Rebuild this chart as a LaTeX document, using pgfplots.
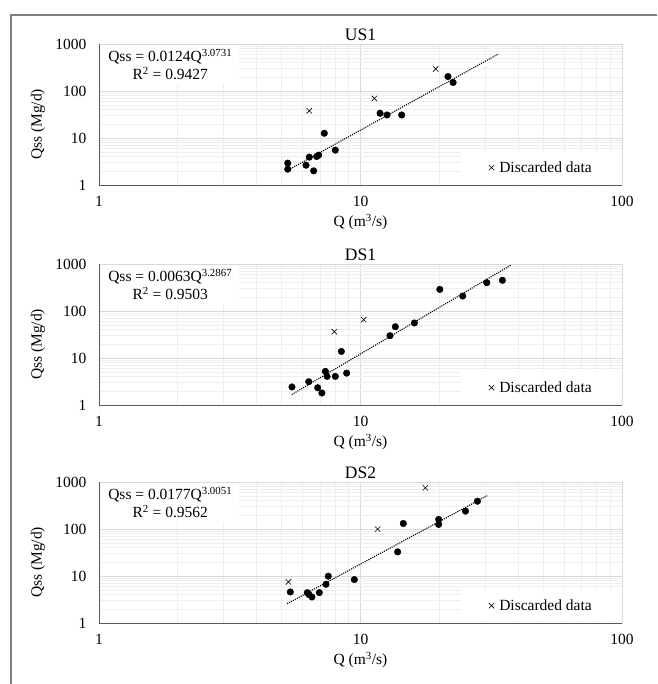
\documentclass[border=0pt]{standalone}
\usepackage{pgfplots}
\pgfplotsset{compat=1.18}
\usepackage{fontspec}
\setmainfont{Liberation Serif}

\definecolor{majgrid}{HTML}{D9D9D9}
\definecolor{mingrid}{HTML}{EEEEEE}
\definecolor{axisgray}{HTML}{595959}
\definecolor{framegray}{HTML}{7F7F7F}

\begin{document}
\begin{tikzpicture}[x=1pt,y=1pt]
\useasboundingbox (0,0) rectangle (657,-684);
\draw[framegray, line width=1.5pt] (11,-684) -- (11,-15) -- (657,-15);

% US1
\begin{axis}[at={(99pt,-44pt)}, anchor=north west, title={US1},
  xmode=log, ymode=log, scale only axis, width=523pt, height=141pt,
  xmin=1, xmax=100, ymin=1, ymax=1000,
  xtick={1,10,100}, xticklabels={1,10,100},
  ytick={1,10,100,1000}, yticklabels={1,10,100,1000},
  grid=both, major grid style={majgrid, line width=0.8pt},
  minor grid style={mingrid, line width=0.6pt},
  axis x line*=bottom, axis y line*=left,
  axis line style={axisgray, line width=0.9pt},
  major tick length=0pt, minor tick length=0pt,
  tick label style={font=\fontsize{15.5}{18}\selectfont},
  xticklabel style={anchor=center, yshift=-16pt},
  yticklabel style={anchor=east, xshift=-9pt},
  label style={font=\fontsize{15.5}{18}\selectfont},
  xlabel={Q (m\textsuperscript{3}/s)}, ylabel={Qss (Mg/d)},
  xlabel style={at={(axis description cs:0.5,-0.262)}, anchor=center},
  ylabel style={at={(axis description cs:-0.117,0.43)}, anchor=center},
  title style={at={(axis description cs:0.5,1.022)}, anchor=center, font=\fontsize{17.5}{20}\selectfont},
  legend style={at={(1,0)}, anchor=south east, draw=none, fill=white,
    inner xsep=28pt, inner ysep=8pt, yshift=1pt, font=\fontsize{15.5}{18}\selectfont,
    /tikz/every odd column/.append style={column sep=3pt}},
]
\addplot[black, line width=1.1pt, dash pattern=on 1.1pt off 1.1pt, forget plot] coordinates {(5.3,2.09) (33.7,614)};
\addplot[only marks, mark=*, mark size=3.3pt, black, forget plot] coordinates {
(5.27,2.92) (5.27,2.17) (6.19,2.64) (6.37,3.92) (6.62,2.0) (6.80,4.04)
(6.92,4.32) (7.27,12.6) (8.01,5.53) (11.88,33.6) (12.63,30.9) (14.37,30.9)
(21.6,203) (22.6,152)};
\addplot[only marks, mark=x, mark size=3.8pt, black, mark options={line width=0.6pt}]
  coordinates {(6.37,37.8) (11.29,69.5) (19.4,295)};
\addlegendentry{Discarded data}
\node[fill=white, align=center, anchor=north west, inner xsep=7pt, inner ysep=4pt,
  font=\fontsize{15.5}{17}\selectfont] at (rel axis cs:0.004,0.995)
  {Qss = 0.0124Q\textsuperscript{3.0731}\\[1pt]R\textsuperscript{2} = 0.9427};
\end{axis}

% DS1
\begin{axis}[at={(99pt,-264pt)}, anchor=north west, title={DS1},
  xmode=log, ymode=log, scale only axis, width=523pt, height=141pt,
  xmin=1, xmax=100, ymin=1, ymax=1000,
  xtick={1,10,100}, xticklabels={1,10,100},
  ytick={1,10,100,1000}, yticklabels={1,10,100,1000},
  grid=both, major grid style={majgrid, line width=0.8pt},
  minor grid style={mingrid, line width=0.6pt},
  axis x line*=bottom, axis y line*=left,
  axis line style={axisgray, line width=0.9pt},
  major tick length=0pt, minor tick length=0pt,
  tick label style={font=\fontsize{15.5}{18}\selectfont},
  xticklabel style={anchor=center, yshift=-16pt},
  yticklabel style={anchor=east, xshift=-9pt},
  label style={font=\fontsize{15.5}{18}\selectfont},
  xlabel={Q (m\textsuperscript{3}/s)}, ylabel={Qss (Mg/d)},
  xlabel style={at={(axis description cs:0.5,-0.262)}, anchor=center},
  ylabel style={at={(axis description cs:-0.117,0.43)}, anchor=center},
  title style={at={(axis description cs:0.5,1.022)}, anchor=center, font=\fontsize{17.5}{20}\selectfont},
  legend style={at={(1,0)}, anchor=south east, draw=none, fill=white,
    inner xsep=28pt, inner ysep=8pt, yshift=1pt, font=\fontsize{15.5}{18}\selectfont,
    /tikz/every odd column/.append style={column sep=3pt}},
]
\addplot[black, line width=1.1pt, dash pattern=on 1.1pt off 1.1pt, forget plot] coordinates {(5.46,1.67) (37.5,939)};
\addplot[only marks, mark=*, mark size=3.3pt, black, forget plot] coordinates {
(5.47,2.42) (6.34,3.13) (6.86,2.33) (7.12,1.80) (7.34,5.19) (7.45,4.06)
(8.01,4.06) (8.45,13.8) (8.85,4.77) (12.97,29.8) (13.59,46.3) (16.07,55.6)
(20.1,288) (24.6,208) (30.4,400) (34.9,450)};
\addplot[only marks, mark=x, mark size=3.8pt, black, mark options={line width=0.6pt}]
  coordinates {(7.94,36.3) (10.28,65.3)};
\addlegendentry{Discarded data}
\node[fill=white, align=center, anchor=north west, inner xsep=7pt, inner ysep=4pt,
  font=\fontsize{15.5}{17}\selectfont] at (rel axis cs:0.004,0.995)
  {Qss = 0.0063Q\textsuperscript{3.2867}\\[1pt]R\textsuperscript{2} = 0.9503};
\end{axis}

% DS2
\begin{axis}[at={(99pt,-482pt)}, anchor=north west, title={DS2},
  xmode=log, ymode=log, scale only axis, width=523pt, height=141pt,
  xmin=1, xmax=100, ymin=1, ymax=1000,
  xtick={1,10,100}, xticklabels={1,10,100},
  ytick={1,10,100,1000}, yticklabels={1,10,100,1000},
  grid=both, major grid style={majgrid, line width=0.8pt},
  minor grid style={mingrid, line width=0.6pt},
  axis x line*=bottom, axis y line*=left,
  axis line style={axisgray, line width=0.9pt},
  major tick length=0pt, minor tick length=0pt,
  tick label style={font=\fontsize{15.5}{18}\selectfont},
  xticklabel style={anchor=center, yshift=-16pt},
  yticklabel style={anchor=east, xshift=-9pt},
  label style={font=\fontsize{15.5}{18}\selectfont},
  xlabel={Q (m\textsuperscript{3}/s)}, ylabel={Qss (Mg/d)},
  xlabel style={at={(axis description cs:0.5,-0.262)}, anchor=center},
  ylabel style={at={(axis description cs:-0.117,0.43)}, anchor=center},
  title style={at={(axis description cs:0.5,1.022)}, anchor=center, font=\fontsize{17.5}{20}\selectfont},
  legend style={at={(1,0)}, anchor=south east, draw=none, fill=white,
    inner xsep=28pt, inner ysep=8pt, yshift=1pt, font=\fontsize{15.5}{18}\selectfont,
    /tikz/every odd column/.append style={column sep=3pt}},
]
\addplot[black, line width=1.1pt, dash pattern=on 1.1pt off 1.1pt, forget plot] coordinates {(5.24,2.57) (30.5,511)};
\addplot[only marks, mark=*, mark size=3.3pt, black, forget plot] coordinates {
(5.39,4.58) (6.26,4.43) (6.35,4.02) (6.52,3.58) (6.96,4.43) (7.38,6.67)
(7.53,9.9) (9.47,8.4) (13.87,32.6) (14.58,131) (19.9,160) (19.9,125)
(25.2,240) (28.0,390)};
\addplot[only marks, mark=x, mark size=3.8pt, black, mark options={line width=0.6pt}]
  coordinates {(5.30,7.48) (11.63,99.5) (17.7,750)};
\addlegendentry{Discarded data}
\node[fill=white, align=center, anchor=north west, inner xsep=7pt, inner ysep=4pt,
  font=\fontsize{15.5}{17}\selectfont] at (rel axis cs:0.004,0.995)
  {Qss = 0.0177Q\textsuperscript{3.0051}\\[1pt]R\textsuperscript{2} = 0.9562};
\end{axis}
\end{tikzpicture}
\end{document}
